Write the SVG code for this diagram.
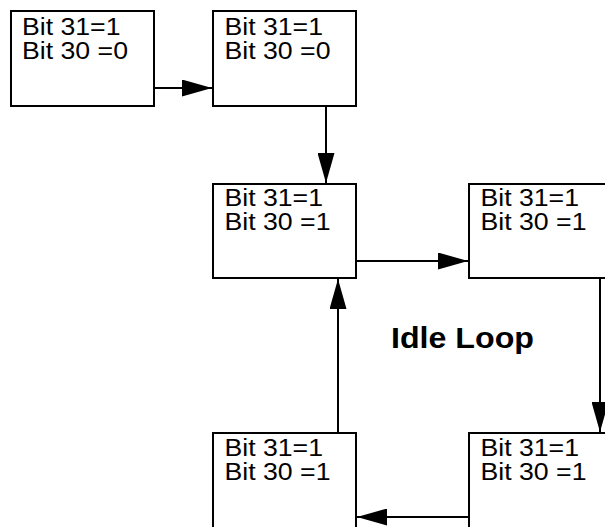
<svg xmlns="http://www.w3.org/2000/svg" width="605" height="527" viewBox="0 0 605 527">
<style>
.box{fill:#fff;stroke:#000;stroke-width:2}
.t{font-family:"Liberation Sans",Arial,sans-serif;font-size:23px;fill:#000}
.big{font-family:"Liberation Sans",Arial,sans-serif;font-size:29px;font-weight:bold;fill:#000}
.c{stroke:#000;stroke-width:2;fill:none;marker-end:url(#ah)}
</style>
<defs>
<marker id="ah" viewBox="0 0 30 17" refX="30" refY="8.5" markerWidth="30" markerHeight="17" markerUnits="userSpaceOnUse" orient="auto">
<path d="M0,0 L30,8.5 L0,17 z" fill="#000"/>
</marker>
</defs>
<rect width="605" height="527" fill="#fff"/>
<g id="n1">
<rect class="box" x="11" y="11" width="143" height="95"/>
<text class="t" x="22" y="35" textLength="98.5" lengthAdjust="spacingAndGlyphs">Bit 31=1</text>
<text class="t" x="22" y="59" textLength="106" lengthAdjust="spacingAndGlyphs">Bit 30 =0</text>
</g>
<g id="n2">
<rect class="box" x="213" y="11" width="143" height="95"/>
<text class="t" x="224.5" y="35" textLength="98.5" lengthAdjust="spacingAndGlyphs">Bit 31=1</text>
<text class="t" x="224.5" y="59" textLength="106" lengthAdjust="spacingAndGlyphs">Bit 30 =0</text>
</g>
<g id="n3">
<rect class="box" x="213" y="184" width="143" height="94"/>
<text class="t" x="224.5" y="206" textLength="98.5" lengthAdjust="spacingAndGlyphs">Bit 31=1</text>
<text class="t" x="224.5" y="230" textLength="106" lengthAdjust="spacingAndGlyphs">Bit 30 =1</text>
</g>
<g id="n4">
<rect class="box" x="469" y="184" width="143" height="94"/>
<text class="t" x="480.5" y="206" textLength="98.5" lengthAdjust="spacingAndGlyphs">Bit 31=1</text>
<text class="t" x="480.5" y="230" textLength="106" lengthAdjust="spacingAndGlyphs">Bit 30 =1</text>
</g>
<g id="n5">
<rect class="box" x="213" y="433" width="143" height="100"/>
<text class="t" x="224.5" y="456" textLength="98.5" lengthAdjust="spacingAndGlyphs">Bit 31=1</text>
<text class="t" x="224.5" y="480" textLength="106" lengthAdjust="spacingAndGlyphs">Bit 30 =1</text>
</g>
<g id="n6">
<rect class="box" x="469" y="433" width="143" height="100"/>
<text class="t" x="480.5" y="456" textLength="98.5" lengthAdjust="spacingAndGlyphs">Bit 31=1</text>
<text class="t" x="480.5" y="480" textLength="106" lengthAdjust="spacingAndGlyphs">Bit 30 =1</text>
</g>
<g id="label">
<text class="big" x="391" y="348" textLength="143" lengthAdjust="spacingAndGlyphs">Idle Loop</text>
</g>
<g id="connectors">
<line class="c" x1="154" y1="88" x2="212" y2="88"/>
<line class="c" x1="326" y1="106" x2="326" y2="183"/>
<line class="c" x1="356" y1="261" x2="468" y2="261"/>
<line class="c" x1="600" y1="278" x2="600" y2="432"/>
<line class="c" x1="469" y1="517" x2="357" y2="517"/>
<line class="c" x1="338" y1="433" x2="338" y2="279"/>
</g>
</svg>
